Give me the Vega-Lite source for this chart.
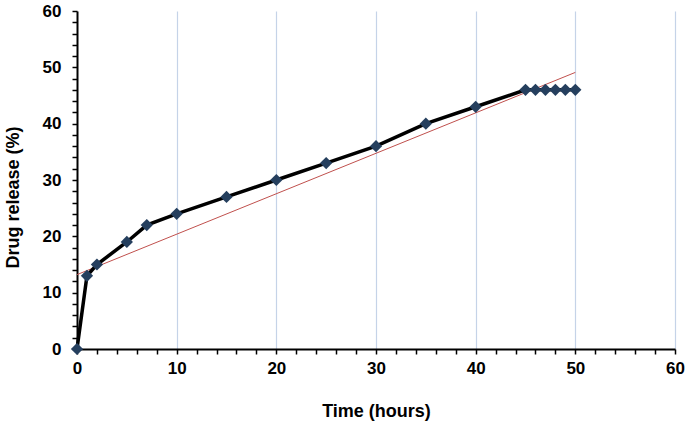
{
  "$schema": "https://vega.github.io/schema/vega-lite/v6.json",
  "autosize": "none",
  "width": 598,
  "height": 338,
  "padding": {"left": 77, "top": 11, "right": 10, "bottom": 73},
  "background": "white",
  "config": {"view": {"stroke": null}, "font": "Liberation Sans"},
  "datasets": {
    "release": [
      {"time": 0, "release": 0},
      {"time": 1, "release": 13},
      {"time": 2, "release": 15},
      {"time": 5, "release": 19},
      {"time": 7, "release": 22},
      {"time": 10, "release": 24},
      {"time": 15, "release": 27},
      {"time": 20, "release": 30},
      {"time": 25, "release": 33},
      {"time": 30, "release": 36},
      {"time": 35, "release": 40},
      {"time": 40, "release": 43},
      {"time": 45, "release": 46},
      {"time": 46, "release": 46},
      {"time": 47, "release": 46},
      {"time": 48, "release": 46},
      {"time": 49, "release": 46},
      {"time": 50, "release": 46}
    ],
    "trend": [
      {"time": 0, "release": 13.2},
      {"time": 50, "release": 49.1}
    ]
  },
  "layer": [
    {
      "data": {"name": "trend"},
      "mark": {"type": "line", "color": "#c0504d", "strokeWidth": 1},
      "encoding": {
        "x": {
          "field": "time", "type": "quantitative",
          "scale": {"domain": [0, 60], "nice": false},
          "axis": {
            "title": "Time (hours)",
            "titleFont": "Liberation Sans", "titleFontSize": 18, "titleFontWeight": "bold", "titleColor": "black",
            "titlePadding": 26,
            "values": [0,2,4,6,8,10,12,14,16,18,20,22,24,26,28,30,32,34,36,38,40,42,44,46,48,50,52,54,56,58,60],
            "tickCount": 100,
            "format": "d",
            "labelExpr": "datum.value % 10 === 0 ? datum.label : ''",
            "labelOverlap": false, "labelFlush": false,
            "labelFontSize": 17, "labelFontWeight": "bold", "labelColor": "black", "labelPadding": 6,
            "domainColor": "black", "domainWidth": 2,
            "tickColor": "black", "tickWidth": 1.5, "tickSize": 5,
            "grid": true,
            "gridColor": "#c5d3e8", "gridWidth": 1.2,
            "gridOpacity": {"condition": {"test": "datum.value % 10 === 0 && datum.value > 0", "value": 1}, "value": 0}
          }
        },
        "y": {
          "field": "release", "type": "quantitative",
          "scale": {"domain": [0, 60], "nice": false},
          "axis": {
            "title": "Drug release (%)",
            "titleFont": "Liberation Sans", "titleFontSize": 18, "titleFontWeight": "bold", "titleColor": "black",
            "titleX": -55, "titleY": 186,
            "values": [0,2,4,6,8,10,12,14,16,18,20,22,24,26,28,30,32,34,36,38,40,42,44,46,48,50,52,54,56,58,60],
            "tickCount": 100,
            "format": "d",
            "labelExpr": "datum.value % 10 === 0 ? datum.label : ''",
            "labelOverlap": false, "labelFlush": false,
            "labelFontSize": 17, "labelFontWeight": "bold", "labelColor": "black", "labelPadding": 11,
            "domainColor": "black", "domainWidth": 2,
            "tickColor": "black", "tickWidth": 1.5, "tickSize": 5,
            "grid": false
          }
        }
      }
    },
    {
      "data": {"name": "release"},
      "mark": {"type": "line", "color": "black", "strokeWidth": 3.5},
      "encoding": {
        "x": {"field": "time", "type": "quantitative"},
        "y": {"field": "release", "type": "quantitative"}
      }
    },
    {
      "data": {"name": "release"},
      "mark": {"type": "point", "shape": "diamond", "filled": true, "color": "#253f5e", "opacity": 1, "size": 150},
      "encoding": {
        "x": {"field": "time", "type": "quantitative"},
        "y": {"field": "release", "type": "quantitative"}
      }
    }
  ]
}
